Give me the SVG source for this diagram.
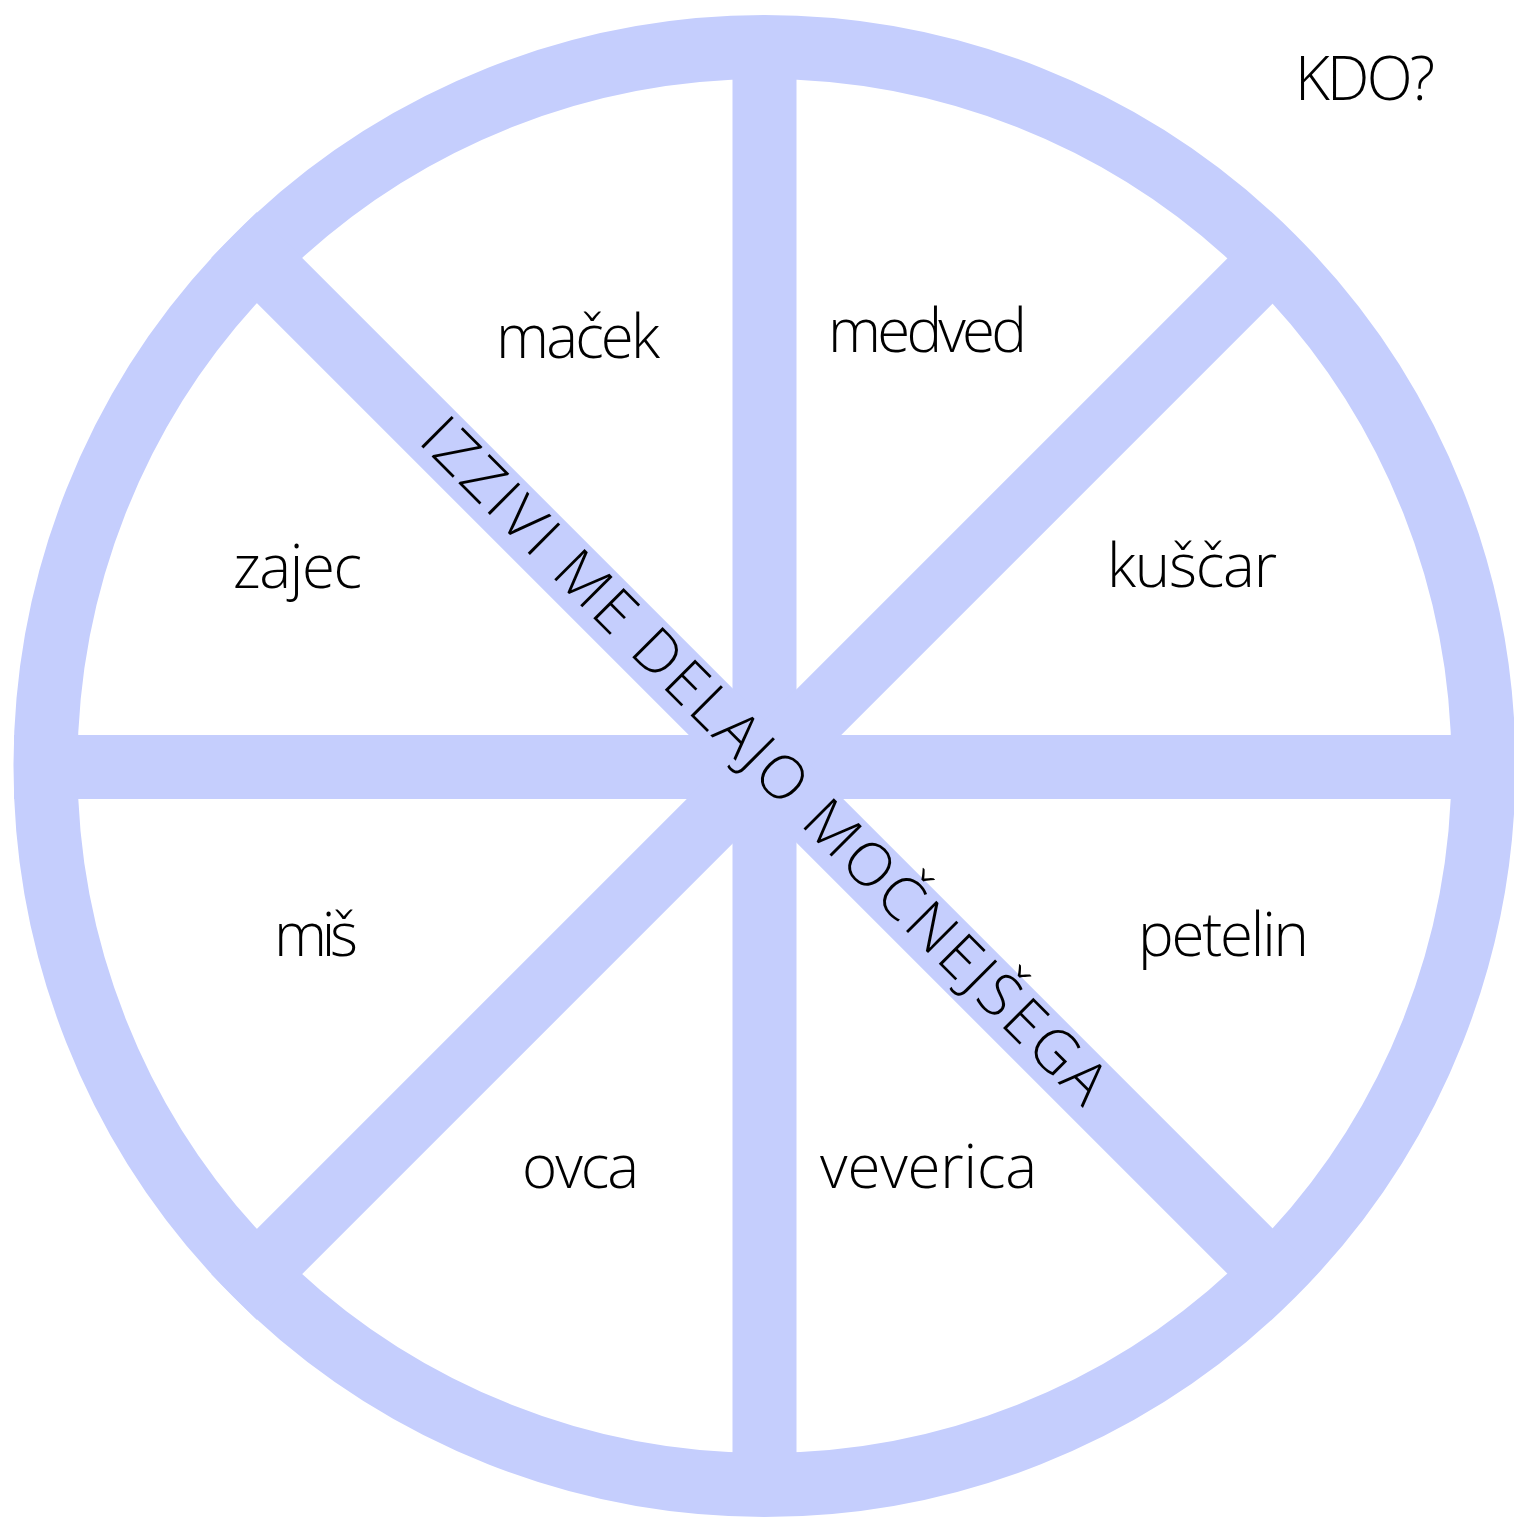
<svg xmlns="http://www.w3.org/2000/svg" width="1514" height="1518" viewBox="0 0 1514 1518">
<style>
.bar{stroke:#C5CEFD;stroke-width:64;fill:none}
.lbl{font-family:"Open Sans","DejaVu Sans",sans-serif;font-weight:300;font-size:60px;fill:#000}
</style>
<rect width="1514" height="1518" fill="#fff"/>
<g id="wheel">
<circle class="bar" cx="764.5" cy="766" r="719"/>
<line class="bar" x1="764.5" y1="16" x2="764.5" y2="1516"/>
<line class="bar" x1="14" y1="767" x2="1514" y2="767"/>
<line class="bar" x1="234" y1="235" x2="1295" y2="1296"/>
<line class="bar" x1="1295" y1="236" x2="234" y2="1297"/>
</g>
<g id="title"><text class="lbl" x="1295" y="100" font-size="64" textLength="140">KDO?</text></g>
<g id="diag"><text class="lbl" x="750" y="775" text-anchor="middle" textLength="942" transform="rotate(45 750 775)">IZZIVI ME DELAJO MOČNEJŠEGA</text></g>
<g id="n-macek"><text class="lbl" x="496" y="358" textLength="164">maček</text></g>
<g id="n-medved"><text class="lbl" x="828" y="352" textLength="199">medved</text></g>
<g id="n-zajec"><text class="lbl" x="233" y="588" textLength="129">zajec</text></g>
<g id="n-kuscar"><text class="lbl" x="1107" y="587" textLength="170">kuščar</text></g>
<g id="n-mis"><text class="lbl" x="274" y="956" textLength="84">miš</text></g>
<g id="n-petelin"><text class="lbl" x="1138" y="956" textLength="171">petelin</text></g>
<g id="n-ovca"><text class="lbl" x="522" y="1188" textLength="117">ovca</text></g>
<g id="n-veverica"><text class="lbl" x="820" y="1188" textLength="217">veverica</text></g>
</svg>
